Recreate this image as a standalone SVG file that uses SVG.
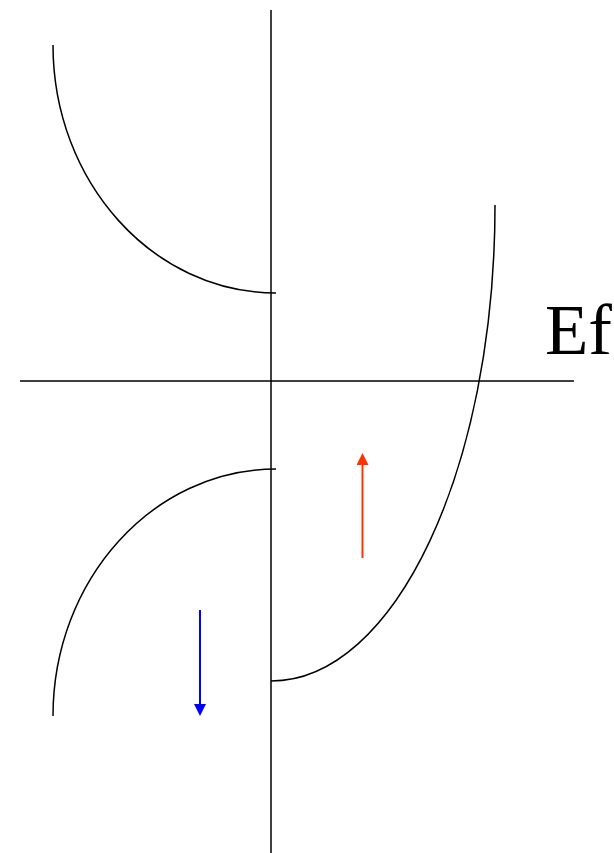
<svg xmlns="http://www.w3.org/2000/svg" width="614" height="853" viewBox="0 0 614 853">
<defs>
<style>
.ln{fill:none;stroke:#000;stroke-width:1.5}
.lbl{font-family:"Liberation Serif","Times New Roman",serif;font-size:71px;fill:#000}
</style>
<marker id="ahR" markerWidth="12" markerHeight="12" refX="6" refY="6" orient="auto" markerUnits="userSpaceOnUse" viewBox="0 0 12 12"><path d="M0,0 L12,6 L0,12 Z" fill="#ff3300"/></marker>
<marker id="ahB" markerWidth="12" markerHeight="12" refX="6" refY="6" orient="auto" markerUnits="userSpaceOnUse" viewBox="0 0 12 12"><path d="M0,0 L12,6 L0,12 Z" fill="#0000ff"/></marker>
</defs>
<rect width="614" height="853" fill="#fff"/>
<g id="axes">
<line class="ln" x1="271" y1="10" x2="271" y2="853"/>
<line class="ln" x1="20" y1="381" x2="574" y2="381"/>
</g>
<g id="curves">
<path class="ln" d="M53,45 C53,182 153,293 276,293"/>
<path class="ln" d="M53,716 C53,580 153,469 276,469"/>
<path class="ln" d="M271,681 C395,681 495,468 495,205"/>
</g>
<g id="label">
<text class="lbl" x="545" y="354">Ef</text>
</g>
<g id="connectors">
<line x1="362.5" y1="558" x2="362.5" y2="459" stroke="#ff3300" stroke-width="2" marker-end="url(#ahR)"/>
<line x1="200" y1="610" x2="200" y2="710" stroke="#0000ff" stroke-width="2" marker-end="url(#ahB)"/>
</g>
</svg>
